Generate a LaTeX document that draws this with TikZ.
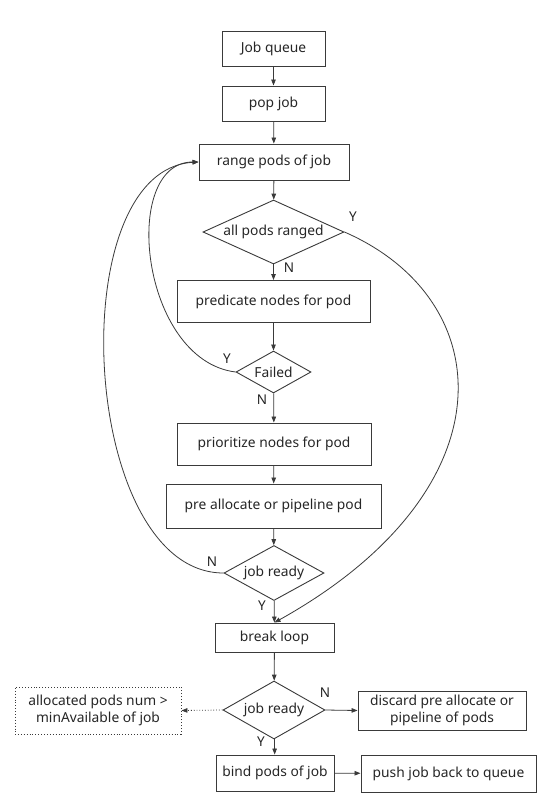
\documentclass[tikz,border=0pt]{standalone}
\usepackage{fontspec}
\setmainfont{Noto Sans}
\usetikzlibrary{shapes.geometric,arrows.meta}
\definecolor{ln}{HTML}{3A3A3A}
\definecolor{tx}{HTML}{262626}
\tikzset{
  box/.style={draw=ln, line width=0.9pt, rectangle, inner sep=0pt, text=tx, font=\fontsize{13.8}{16.5}\selectfont, align=center},
  dia/.style={draw=ln, line width=0.9pt, diamond, inner sep=0pt, text=tx, font=\fontsize{13.8}{16.5}\selectfont},
  dotbox/.style={box, dotted},
  arr/.style={draw=ln, line width=0.8pt, -{Triangle[length=6pt,width=4.5pt]}},
  lab/.style={text=tx, font=\fontsize{13.5}{16}\selectfont, inner sep=0pt}
}
\begin{document}
\begin{tikzpicture}[x=1pt,y=-1pt]
\useasboundingbox[fill=white] (0,0) rectangle (555,803);
\node[box, minimum width=103, minimum height=35] (q) at (273.5,48.5) {Job queue};
\node[box, minimum width=103, minimum height=35] (pop) at (273.5,103.5) {pop job};
\node[box, minimum width=150, minimum height=36] (range) at (274,162) {range pods of job};
\node[dia, shape aspect=2.4, minimum width=141, minimum height=64] (d1) at (273.5,232) {all pods ranged};
\node[box, minimum width=193, minimum height=42] (pred) at (273.5,301.5) {predicate nodes for pod};
\node[dia, shape aspect=1.9, minimum width=75, minimum height=42] (d2) at (273.5,372) {Failed};
\node[box, minimum width=194, minimum height=42] (prio) at (274,444) {prioritize nodes for pod};
\node[box, minimum width=215, minimum height=44] (pre) at (273.5,506) {pre allocate or pipeline pod};
\node[dia, shape aspect=1.9, minimum width=100, minimum height=55] (d3) at (274,573) {job ready};
\node[box, minimum width=119, minimum height=29] (brk) at (274.5,637.5) {break loop};
\node[dia, shape aspect=1.9, minimum width=102, minimum height=58] (d4) at (274,710) {job ready};
\node[dotbox, minimum width=166, minimum height=47] (cond) at (98,710.5) {allocated pods num \textgreater\\minAvailable of job};
\node[box, minimum width=168, minimum height=39] (disc) at (442,710.5) {discard pre allocate or\\pipeline of pods};
\node[box, minimum width=118, minimum height=36] (bind) at (275,773) {bind pods of job};
\node[box, minimum width=175, minimum height=37] (push) at (448.5,773.5) {push job back to queue};

\draw[arr] (q) -- (pop);
\draw[arr] (pop) -- (range);
\draw[arr] (range) -- (d1);
\draw[arr] (d1) -- (pred);
\draw[arr] (pred) -- (d2);
\draw[arr] (d2) -- (prio);
\draw[arr] (prio) -- (pre);
\draw[arr] (pre) -- (d3);
\draw[arr] (d3) -- (brk);
\draw[arr] (brk) -- (d4);
\draw[arr] (d4) -- (bind);
\draw[arr] (d4.east) -- (disc.west);
\draw[arr] (bind) -- (push);
\draw[arr, dotted] (d4.west) -- (cond.east);

\draw[arr] (d1.east) .. controls (500,300) and (512,490) .. (brk.north);
\draw[arr] (d2.west) .. controls (140,360) and (120,162) .. (range.west);
\draw[arr] (d3.west) .. controls (80,573) and (60,170) .. (range.west);

\node[lab] (l1) at (353,217) {Y};
\node[lab] (l2) at (289,268) {N};
\node[lab] (l3) at (227,359) {Y};
\node[lab] (l4) at (262,400) {N};
\node[lab] (l5) at (212,562) {N};
\node[lab] (l6) at (262,606) {Y};
\node[lab] (l7) at (325,693) {N};
\node[lab] (l8) at (261,742) {Y};
\end{tikzpicture}
\end{document}
